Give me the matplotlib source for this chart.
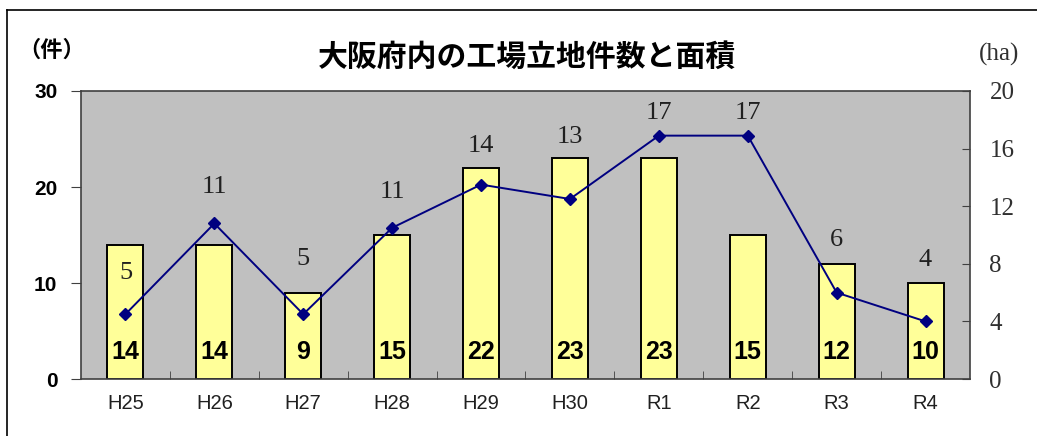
import numpy as np
import matplotlib.pyplot as plt
from matplotlib.lines import Line2D

# データ
years = ["H25", "H26", "H27", "H28", "H29", "H30", "R1", "R2", "R3", "R4"]
counts = [14, 14, 9, 15, 22, 23, 23, 15, 12, 10]          # 件数
area_ha = [4.5, 10.8, 4.5, 10.5, 13.5, 12.5, 16.9, 16.9, 6.0, 4.0]  # 面積 (ha)

# 面積ラベルの縦位置ずらし (pt)
label_dy = [30, 26, 40, 26, 28, 45, 16, 16, 38, 44]

jp = ["Noto Sans CJK JP", "DejaVu Sans"]
sans = "Liberation Sans"
serif = "Liberation Serif"

fig = plt.figure(figsize=(10.37, 4.36), dpi=100)
ax = fig.add_axes([0.0781, 0.1307, 0.8573, 0.6606])
ax.set_facecolor("#C0C0C0")

x = np.arange(len(years))
ax.bar(x, counts, width=0.405, color="#FFFF99", edgecolor="black", linewidth=1.4, zorder=2)
for xi, c in zip(x, counts):
    ax.text(xi, 2.8, str(c), ha="center", va="center", fontsize=18,
            fontweight="bold", family=sans, zorder=5)

ax.set_xlim(-0.5, len(years) - 0.5)
ax.set_ylim(0, 30)
ax.set_yticks([0, 10, 20, 30])
ax.set_yticklabels(["0", "10", "20", "30"], fontsize=15, fontweight="bold", family=sans)
ax.tick_params(axis="y", direction="out", length=7, pad=10, color="#404040")
ax.set_xticks(x)
ax.set_xticklabels(years, fontsize=14.5, family=sans, color="#202020")
ax.tick_params(axis="x", length=0, pad=11)
ax.set_xticks(np.arange(0.5, len(years) - 1, 1), minor=True)
ax.tick_params(axis="x", which="minor", direction="in", length=6, color="#404040")
for s in ax.spines.values():
    s.set_color("#404040")
    s.set_linewidth(1.2)

ax2 = ax.twinx()
ax2.plot(x, area_ha, color="#000080", linewidth=1.4, marker="D", markersize=6.5, zorder=4)
ax2.set_ylim(0, 20)
ax2.set_yticks([0, 4, 8, 12, 16, 20])
ax2.set_yticklabels(["0", "4", "8", "12", "16", "20"], fontsize=18, family=serif, color="#303030")
ax2.tick_params(axis="y", direction="in", length=6, pad=14, color="#404040")
for s in ax2.spines.values():
    s.set_visible(False)

for xi, a, dy in zip(x, area_ha, label_dy):
    ax2.annotate(str(int(np.floor(a + 0.5))), (xi, a), xytext=(0, dy),
                 textcoords="offset points", ha="center", va="center",
                 fontsize=19, family=serif, color="#202020")

fig.text(0.508, 0.869, "大阪府内の工場立地件数と面積", ha="center", va="center",
         fontsize=21.5, fontweight="bold", family=jp)
fig.text(0.050, 0.885, "（件）", ha="center", va="center", fontsize=16,
         fontweight="bold", family=jp)
fig.text(0.963, 0.876, "(ha)", ha="center", va="center", fontsize=18, family=serif,
         color="#303030")

# 外枠
fig.add_artist(Line2D([7 / 1037, 7 / 1037], [0, 1 - 10 / 436], color="black", lw=1.2,
                      transform=fig.transFigure))
fig.add_artist(Line2D([7 / 1037, 1], [1 - 10 / 436, 1 - 10 / 436], color="black", lw=1.2,
                      transform=fig.transFigure))

fig.savefig("out.png", dpi=100)
